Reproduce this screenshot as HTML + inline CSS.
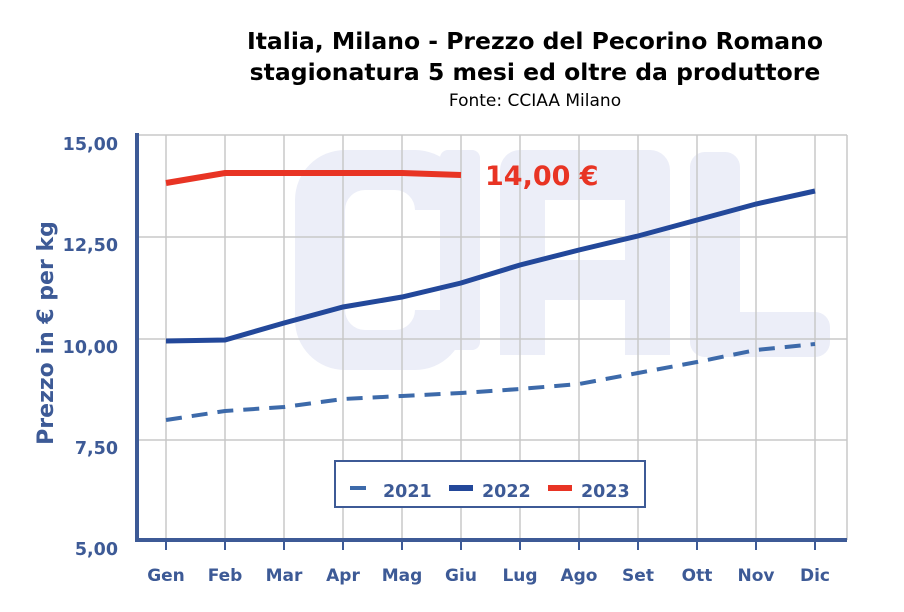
<!DOCTYPE html>
<html><head><meta charset="utf-8"><style>body{margin:0;background:#fff}svg{display:block}</style></head><body>
<svg width="904" height="612" xmlns="http://www.w3.org/2000/svg" font-family="Verdana, 'DejaVu Sans', sans-serif">
<text x="535" y="49" text-anchor="middle" font-size="23.5" font-weight="bold" fill="#000">Italia, Milano - Prezzo del Pecorino Romano</text>
<text x="535" y="80" text-anchor="middle" font-size="23.5" font-weight="bold" fill="#000">stagionatura 5 mesi ed oltre da produttore</text>
<text x="535" y="106" text-anchor="middle" font-size="17" fill="#000">Fonte: CCIAA Milano</text>
<!-- watermark -->
<g fill="#eceef8">
<path d="M345 150 h70 a50 50 0 0 1 50 50 v10 h-50 a20 20 0 0 0 -20 -20 h-30 a20 20 0 0 0 -20 20 v100 a20 20 0 0 0 20 20 h30 a20 20 0 0 0 20 -20 h50 v10 a50 50 0 0 1 -50 50 h-70 a50 50 0 0 1 -50 -50 v-120 a50 50 0 0 1 50 -50z"/>
<rect x="440" y="150" width="40" height="200" rx="8"/>
<path d="M500 170 a20 20 0 0 1 20 -20 h130 a20 20 0 0 1 20 20 v185 h-45 v-55 h-80 v55 h-45z M545 200 v60 h80 v-60z"/>
<rect x="690" y="152" width="50" height="200" rx="15"/>
<rect x="690" y="312" width="140" height="45" rx="15"/>
</g>
<!-- grid -->
<g stroke="#c8c8c8" stroke-width="1.5">
<line x1="137" y1="135" x2="847" y2="135"/><line x1="137" y1="237" x2="847" y2="237"/><line x1="137" y1="339" x2="847" y2="339"/><line x1="137" y1="440" x2="847" y2="440"/>
<line x1="166" y1="135" x2="166" y2="540"/><line x1="225" y1="135" x2="225" y2="540"/><line x1="284" y1="135" x2="284" y2="540"/><line x1="343" y1="135" x2="343" y2="540"/><line x1="402" y1="135" x2="402" y2="540"/><line x1="461" y1="135" x2="461" y2="540"/><line x1="520" y1="135" x2="520" y2="540"/><line x1="579" y1="135" x2="579" y2="540"/><line x1="638" y1="135" x2="638" y2="540"/><line x1="697" y1="135" x2="697" y2="540"/><line x1="756" y1="135" x2="756" y2="540"/><line x1="815" y1="135" x2="815" y2="540"/><line x1="847" y1="135" x2="847" y2="540"/>
</g>
<g stroke="#3d5a96" stroke-width="4"><line x1="137" y1="133" x2="137" y2="541"/><line x1="135" y1="540" x2="847" y2="540"/></g>
<g stroke="#3d5a96" stroke-width="2"><line x1="166" y1="542" x2="166" y2="550"/><line x1="225" y1="542" x2="225" y2="550"/><line x1="284" y1="542" x2="284" y2="550"/><line x1="343" y1="542" x2="343" y2="550"/><line x1="402" y1="542" x2="402" y2="550"/><line x1="461" y1="542" x2="461" y2="550"/><line x1="520" y1="542" x2="520" y2="550"/><line x1="579" y1="542" x2="579" y2="550"/><line x1="638" y1="542" x2="638" y2="550"/><line x1="697" y1="542" x2="697" y2="550"/><line x1="756" y1="542" x2="756" y2="550"/><line x1="815" y1="542" x2="815" y2="550"/></g>
<g fill="#3d5a96" font-size="17.5" font-weight="bold" text-anchor="end">
<text x="118" y="150">15,00</text><text x="118" y="251">12,50</text><text x="118" y="353">10,00</text><text x="118" y="454">7,50</text><text x="118" y="555">5,00</text></g>
<g fill="#3d5a96" font-size="17" font-weight="bold" text-anchor="middle">
<text x="166" y="581">Gen</text><text x="225" y="581">Feb</text><text x="284" y="581">Mar</text><text x="343" y="581">Apr</text><text x="402" y="581">Mag</text><text x="461" y="581">Giu</text><text x="520" y="581">Lug</text><text x="579" y="581">Ago</text><text x="638" y="581">Set</text><text x="697" y="581">Ott</text><text x="756" y="581">Nov</text><text x="815" y="581">Dic</text></g>
<text transform="translate(53,333) rotate(-90)" text-anchor="middle" fill="#3d5a96" font-size="22" font-weight="bold">Prezzo in € per kg</text>
<!-- series -->
<polyline fill="none" stroke="#3d6aaa" stroke-width="4" stroke-dasharray="16,10" points="166,420 225,411 284,407 343,399 402,396 461,393 520,389 579,384 638,373 697,362 756,350 815,344"/>
<polyline fill="none" stroke="#23489a" stroke-width="5" points="166,341 225,340 284,323 343,307 402,297 461,283 520,265 579,250 638,236 697,220 756,204 815,191"/>
<polyline fill="none" stroke="#e83424" stroke-width="6" points="166,183 225,173 284,173 343,173 402,173 461,175"/>
<text x="485" y="185" fill="#e83424" font-size="27" font-weight="bold">14,00 €</text>
<!-- legend -->
<rect x="335" y="461" width="310" height="46" fill="#fff" stroke="#3d5a96" stroke-width="2"/>
<line x1="350" y1="488" x2="366" y2="488" stroke="#3d6aaa" stroke-width="4"/>
<text x="383" y="497" fill="#3d5a96" font-size="17.5" font-weight="bold">2021</text>
<line x1="449" y1="488" x2="473" y2="488" stroke="#23489a" stroke-width="6"/>
<text x="482" y="497" fill="#3d5a96" font-size="17.5" font-weight="bold">2022</text>
<line x1="548" y1="488" x2="572" y2="488" stroke="#e83424" stroke-width="6"/>
<text x="581" y="497" fill="#3d5a96" font-size="17.5" font-weight="bold">2023</text>
</svg>
</body></html>
